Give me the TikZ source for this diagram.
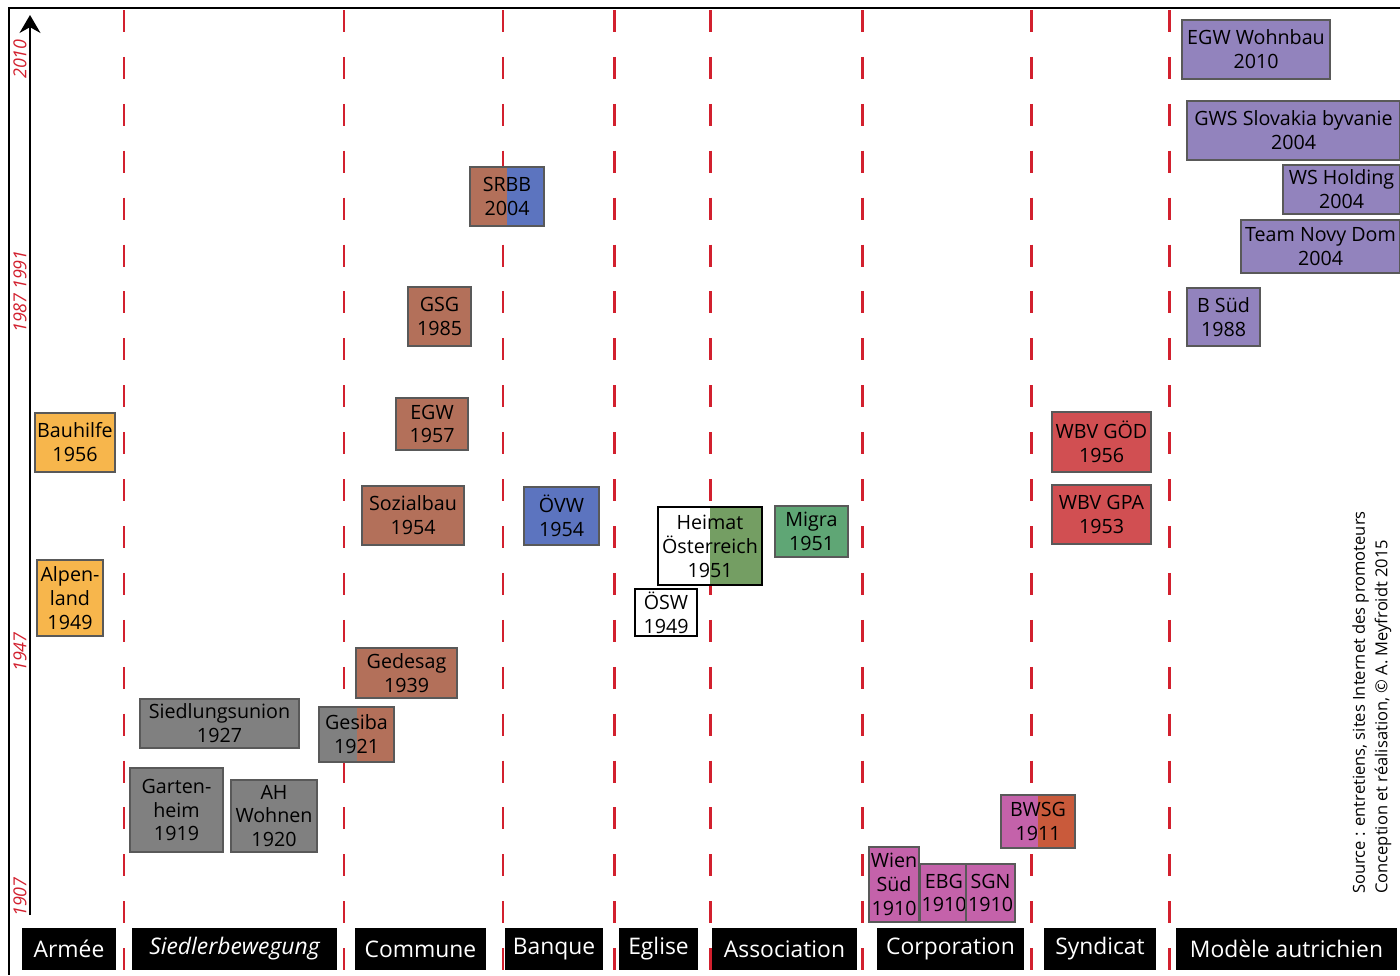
\documentclass[tikz,border=0pt]{standalone}
\usepackage{fontspec}
\setmainfont{Open Sans}
\usetikzlibrary{arrows.meta}

\definecolor{sepred}{HTML}{D2202E}
\definecolor{armee}{HTML}{F7B64C}
\definecolor{siedler}{HTML}{808080}
\definecolor{commune}{HTML}{B3705A}
\definecolor{banque}{HTML}{5C74BF}
\definecolor{eglise}{HTML}{749E63}
\definecolor{assoc}{HTML}{5FA675}
\definecolor{corpo}{HTML}{C462AA}
\definecolor{orrouge}{HTML}{C95A3B}
\definecolor{syndic}{HTML}{D14F52}
\definecolor{modele}{HTML}{9283BD}

\begin{document}
\begin{tikzpicture}[x = 0.02cm, y = -0.02cm,
    box/.style = {draw = black!65, line width = 1pt, inner sep = 1pt, align = center,
        font = \fontsize{11.2}{13.6}\selectfont},
    cat/.style = {fill = black, text = white, minimum height = 0.84cm, inner sep = 2pt,
        font = \fontsize{13}{15}\selectfont},
    yr/.style = {text = sepred, rotate = 90, inner sep = 0pt, font = \fontsize{10.2}{11}\selectfont\itshape},
    sep/.style = {draw = sepred, line width = 1.7pt, dash pattern = on 12.5pt off 14.2pt},
    split/.style 2 args = {path picture = {
        \fill[#1] (path picture bounding box.south west) rectangle (path picture bounding box.north);
        \fill[#2] (path picture bounding box.south) rectangle (path picture bounding box.north east);}}]
    \useasboundingbox (0,0) rectangle (1400,975);

    % frame and separators
    \draw[line width = 0.8pt] (1400,8) -- (9,8) -- (9,975);
    \foreach \sx in {124, 344, 503, 614, 710, 862, 1031, 1169}
        \draw[sep] (\sx,10) -- (\sx,975);

    % time axis
    \coordinate (axbot) at (30,915);
    \coordinate (axtop) at (30,15);
    \draw[line width = 0.9pt, -{Stealth[length = 0.36cm, width = 0.42cm]}] (axbot) -- (axtop);
    \node[yr] (y2010) at (20,59) {2010};
    \node[yr] (y1991) at (20,270) {1991};
    \node[yr] (y1987) at (20,313) {1987};
    \node[yr] (y1947) at (20,652) {1947};
    \node[yr] (y1907) at (20,897) {1907};

    % Armee
    \node[box, fill = armee, minimum width = 1.6cm, minimum height = 1.18cm] (bauhilfe) at (75,442.5) {Bauhilfe\\1956};
    \node[box, fill = armee, minimum width = 1.32cm, minimum height = 1.52cm] (alpenland) at (70,598) {Alpen-\\land\\1949};

    % Siedlerbewegung
    \node[box, fill = siedler, minimum width = 3.18cm, minimum height = 0.98cm] (siedlungsunion) at (219.5,723.5) {Siedlungsunion\\1927};
    \node[box, fill = siedler, minimum width = 1.86cm, minimum height = 1.68cm] (gartenheim) at (176.5,810) {Garten-\\heim\\1919};
    \node[box, fill = siedler, minimum width = 1.72cm, minimum height = 1.44cm] (ahwohnen) at (274,816) {AH\\Wohnen\\1920};
    \node[box, split = {siedler}{commune}, minimum width = 1.5cm, minimum height = 1.1cm] (gesiba) at (356.5,734.5) {Gesiba\\1921};

    % Commune
    \node[box, fill = commune, minimum width = 2.02cm, minimum height = 1.0cm] (gedesag) at (406.5,673) {Gedesag\\1939};
    \node[box, fill = commune, minimum width = 2.04cm, minimum height = 1.18cm] (sozialbau) at (413,515.5) {Sozialbau\\1954};
    \node[box, fill = commune, minimum width = 1.44cm, minimum height = 1.04cm] (egw) at (432,424) {EGW\\1957};
    \node[box, fill = commune, minimum width = 1.26cm, minimum height = 1.18cm] (gsg) at (439.5,316.5) {GSG\\1985};
    \node[box, split = {commune}{banque}, minimum width = 1.48cm, minimum height = 1.18cm] (srbb) at (507,196.5) {SRBB\\2004};

    % Banque, Eglise, Association
    \node[box, fill = banque, minimum width = 1.5cm, minimum height = 1.16cm] (ovw) at (561.5,516) {ÖVW\\1954};
    \node[box, draw = black, line width = 1.3pt, split = {white}{eglise}, minimum width = 2.08cm, minimum height = 1.56cm] (heimat) at (710,546) {Heimat\\Österreich\\1951};
    \node[box, draw = black, line width = 1.3pt, fill = white, minimum width = 1.24cm, minimum height = 0.94cm] (osw) at (666,612.5) {ÖSW\\1949};
    \node[box, fill = assoc, minimum width = 1.46cm, minimum height = 1.02cm] (migra) at (811.5,531.5) {Migra\\1951};

    % Corporation, Syndicat
    \node[box, fill = corpo, minimum width = 1.0cm, minimum height = 1.5cm] (wiensud) at (894,884.5) {Wien\\Süd\\1910};
    \node[box, fill = corpo, minimum width = 0.88cm, minimum height = 1.16cm] (ebg) at (944,893) {EBG\\1910};
    \node[box, fill = corpo, minimum width = 0.86cm, minimum height = 1.16cm] (sgn) at (990.5,893) {SGN\\1910};
    \node[box, split = {corpo}{orrouge}, minimum width = 1.48cm, minimum height = 1.06cm] (bwsg) at (1038,821.5) {BWSG\\1911};
    \node[box, fill = syndic, minimum width = 1.98cm, minimum height = 1.2cm] (wbvgod) at (1101.5,442) {WBV GÖD\\1956};
    \node[box, fill = syndic, minimum width = 1.98cm, minimum height = 1.18cm] (wbvgpa) at (1101.5,514.5) {WBV GPA\\1953};

    % Modele autrichien
    \node[box, fill = modele, minimum width = 2.96cm, minimum height = 1.18cm] (egwwohnbau) at (1256,49.5) {EGW Wohnbau\\2010};
    \node[box, fill = modele, minimum width = 4.26cm, minimum height = 1.18cm] (gws) at (1293.5,130.5) {GWS Slovakia byvanie\\2004};
    \node[box, fill = modele, minimum width = 2.34cm, minimum height = 0.98cm] (wsholding) at (1341.5,189.5) {WS Holding\\2004};
    \node[box, fill = modele, minimum width = 3.18cm, minimum height = 1.06cm] (novydom) at (1320.5,246.5) {Team Novy Dom\\2004};
    \node[box, fill = modele, minimum width = 1.46cm, minimum height = 1.16cm] (bsud) at (1223.5,317) {B Süd\\1988};

    % categories
    \node[cat, minimum width = 1.88cm] (armee) at (69,949) {Armée};
    \node[cat, minimum width = 4.1cm, font = \fontsize{13}{15}\selectfont\itshape] (siedlerbew) at (234.5,949) {Siedlerbewegung};
    \node[cat, minimum width = 2.62cm] (commune) at (420.5,949) {Commune};
    \node[cat, minimum width = 1.96cm] (banque) at (554,949) {Banque};
    \node[cat, minimum width = 1.58cm] (eglise) at (658.5,949) {Eglise};
    \node[cat, minimum width = 2.9cm] (association) at (784.5,949) {Association};
    \node[cat, minimum width = 2.94cm] (corporation) at (950.5,949) {Corporation};
    \node[cat, minimum width = 2.24cm] (syndicat) at (1100,949) {Syndicat};
    \node[cat, minimum width = 4.42cm] (modele) at (1286.5,949) {Modèle autrichien};

    % source
    \node[rotate = 90, anchor = north west, align = left, inner sep = 0pt,
        font = \fontsize{9.4}{12.8}\selectfont] (source) at (1352,894)
        {Source : entretiens, sites Internet des promoteurs\\Conception et réalisation, © A. Meyfroidt 2015};
\end{tikzpicture}
\end{document}
